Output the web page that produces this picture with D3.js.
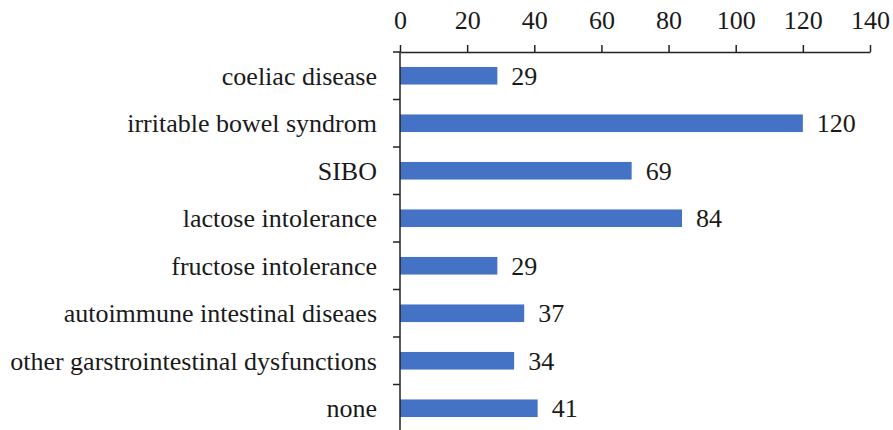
<!DOCTYPE html>
<html>
<head>
<meta charset="utf-8">
<script src="https://cdn.jsdelivr.net/npm/d3@7"></script>
<style>
  html, body { margin: 0; padding: 0; background: #fff; }
  svg { display: block; }
</style>
</head>
<body>
<svg id="chart" width="893" height="430"></svg>
<script>
// Diagnoses reported and number of respondents
const categories = [
  "coeliac disease",
  "irritable bowel syndrom",
  "SIBO",
  "lactose intolerance",
  "fructose intolerance",
  "autoimmune intestinal diseaes",
  "other garstrointestinal dysfunctions",
  "none"
];
const counts = [29, 120, 69, 84, 29, 37, 34, 41];
const xTicks = [0, 20, 40, 60, 80, 100, 120, 140];

const FONT = "'Times New Roman', 'Liberation Serif', 'DejaVu Serif', serif";
const FS = "26px";
const INK = "#1a1a1a";

const svg = d3.select("#chart");
const W = 893;
const margin = { top: 52, left: 400, right: 23 };
const bandStep = 47.5;
const plotBottom = margin.top + bandStep * categories.length;

const x = d3.scaleLinear().domain([0, 140]).range([margin.left, W - margin.right]);
const y = d3.scaleBand().domain(categories)
  .range([margin.top, plotBottom])
  .paddingInner(0.63).paddingOuter(0.315);

// Bars
svg.append("g").selectAll("rect")
  .data(categories)
  .join("rect")
  .attr("x", x(0))
  .attr("y", d => y(d))
  .attr("width", (d, i) => x(counts[i]) - x(0))
  .attr("height", y.bandwidth())
  .attr("fill", "#4472C4");

// Value labels
svg.append("g").selectAll("text")
  .data(categories)
  .join("text")
  .attr("x", (d, i) => x(counts[i]) + 14)
  .attr("y", d => y(d) + y.bandwidth() / 2)
  .attr("dy", "0.35em")
  .style("font-family", FONT)
  .style("font-size", FS)
  .style("fill", INK)
  .text((d, i) => counts[i]);

// Top value axis
const xAxis = svg.append("g")
  .attr("transform", `translate(0,${margin.top})`)
  .call(d3.axisTop(x).tickValues(xTicks).tickSize(7).tickPadding(16).tickSizeOuter(0));
xAxis.select(".domain").attr("stroke", "#222").attr("stroke-width", 1.5);
xAxis.selectAll(".tick line").attr("stroke", "#222").attr("stroke-width", 1.5);
xAxis.selectAll(".tick text")
  .style("font-family", FONT)
  .style("font-size", FS)
  .style("fill", INK);

// Left category axis with ticks at category boundaries
const boundaries = d3.range(categories.length + 1).map(i => margin.top + i * y.step());
const yAxisG = svg.append("g");
yAxisG.append("line")
  .attr("x1", x(0)).attr("x2", x(0))
  .attr("y1", margin.top).attr("y2", plotBottom)
  .attr("stroke", "#222").attr("stroke-width", 1.5);
yAxisG.selectAll("line.b")
  .data(boundaries)
  .join("line")
  .attr("class", "b")
  .attr("x1", x(0) - 7).attr("x2", x(0))
  .attr("y1", d => d).attr("y2", d => d)
  .attr("stroke", "#222").attr("stroke-width", 1.5);
yAxisG.selectAll("text")
  .data(categories)
  .join("text")
  .attr("x", x(0) - 23)
  .attr("y", d => y(d) + y.bandwidth() / 2)
  .attr("dy", "0.35em")
  .attr("text-anchor", "end")
  .style("font-family", FONT)
  .style("font-size", FS)
  .style("fill", INK)
  .text(d => d);
</script>
</body>
</html>
